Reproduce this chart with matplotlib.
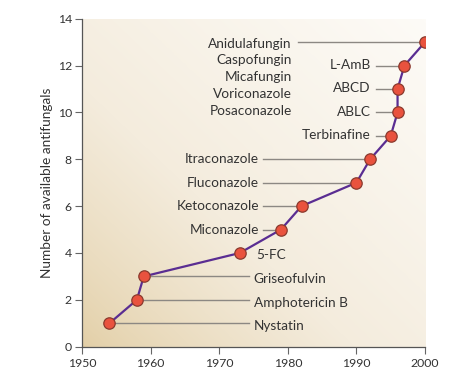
import numpy as np
import matplotlib
matplotlib.use("Agg")
import matplotlib.pyplot as plt
from matplotlib.colors import LinearSegmentedColormap

# ---- data ----
years = [1954, 1958, 1959, 1973, 1979, 1982, 1990, 1992, 1995, 1996, 1996, 1997, 2000]
counts = [1, 2, 3, 4, 5, 6, 7, 8, 9, 10, 11, 12, 13]
right_labels = ["Nystatin", "Amphotericin B", "Griseofulvin"]           # idx 0..2
fc_label = "5-FC"                                                          # idx 3
left_labels = ["Miconazole", "Ketoconazole", "Fluconazole", "Itraconazole"]  # idx 4..7
mid_labels = ["Terbinafine", "ABLC", "ABCD", "L-AmB"]                     # idx 8..11
top_labels = ["Anidulafungin", "Caspofungin", "Micafungin", "Voriconazole", "Posaconazole"]  # idx 12
xticks = [1950, 1960, 1970, 1980, 1990, 2000]
yticks = [0, 2, 4, 6, 8, 10, 12, 14]
ylabel = "Number of available antifungals"

plt.rcParams['font.family'] = ['Lato', 'DejaVu Sans']
TXT = '#333333'
LINEC = '#8c8883'

fig = plt.figure(figsize=(4.59, 3.74), dpi=100)
ax = fig.add_axes([82/459, 1-346.7/374, (425-82)/459, (346.7-18.7)/374])
ax.set_xlim(1950, 2000)
ax.set_ylim(0, 14)

# gradient background
n = 300
gx, gy = np.meshgrid(np.linspace(0, 1, n), np.linspace(0, 1, n))
t = ((gx + gy) / 2) ** 0.75
cmap = LinearSegmentedColormap.from_list('bg', ['#e2cea5', '#f4ecdd', '#fdfbf7'])
ax.imshow(t, cmap=cmap, extent=[0, 1, 0, 1], transform=ax.transAxes,
          origin='lower', aspect='auto', zorder=0, interpolation='bilinear')

fs = 9.8
# leader lines and labels
for i, lab in enumerate(right_labels):
    ax.plot([years[i], 1974.3], [counts[i], counts[i]], color=LINEC, lw=1.0, zorder=2)
    ax.text(1975.0, counts[i] - 0.12, lab, ha='left', va='center', fontsize=fs, color=TXT)

ax.text(1975.4, counts[3] - 0.1, fc_label, ha='left', va='center', fontsize=fs, color=TXT)

for k, lab in enumerate(left_labels):
    i = 4 + k
    ax.plot([1976.4, years[i]], [counts[i], counts[i]], color=LINEC, lw=1.0, zorder=2)
    ax.text(1975.8, counts[i], lab, ha='right', va='center', fontsize=fs, color=TXT)

for k, lab in enumerate(mid_labels):
    i = 8 + k
    ax.plot([1992.9, years[i]], [counts[i], counts[i]], color=LINEC, lw=1.0, zorder=2)
    ax.text(1992.1, counts[i] + 0.03, lab, ha='right', va='center', fontsize=fs, color=TXT)

ax.plot([1981.5, years[12]], [counts[12], counts[12]], color=LINEC, lw=1.0, zorder=2)
for k, lab in enumerate(top_labels):
    ax.text(1980.6, counts[12] - 0.06 - k * 0.715, lab, ha='right', va='center',
            fontsize=fs, color=TXT)

# main line
ax.plot(years, counts, color='#5a2d92', lw=1.6, zorder=3)
ax.plot(years, counts, 'o', ms=8.2, mfc='#e9523e', mec='#8a3a2e', mew=0.9, zorder=4)

for s in ['top', 'right']:
    ax.spines[s].set_visible(False)
for s in ['left', 'bottom']:
    ax.spines[s].set_color('#555555')
    ax.spines[s].set_linewidth(0.9)
ax.set_xticks(xticks)
ax.set_yticks(yticks)
ax.tick_params(direction='out', length=5, width=0.8, color='#666666',
               labelsize=8.8, labelcolor=TXT)
ax.tick_params(axis='x', pad=3.2)
ax.tick_params(axis='y', pad=2.3)
ax.set_ylabel(ylabel, fontsize=9.8, color=TXT, labelpad=3.5)

fig.savefig('out.png', dpi=100)
